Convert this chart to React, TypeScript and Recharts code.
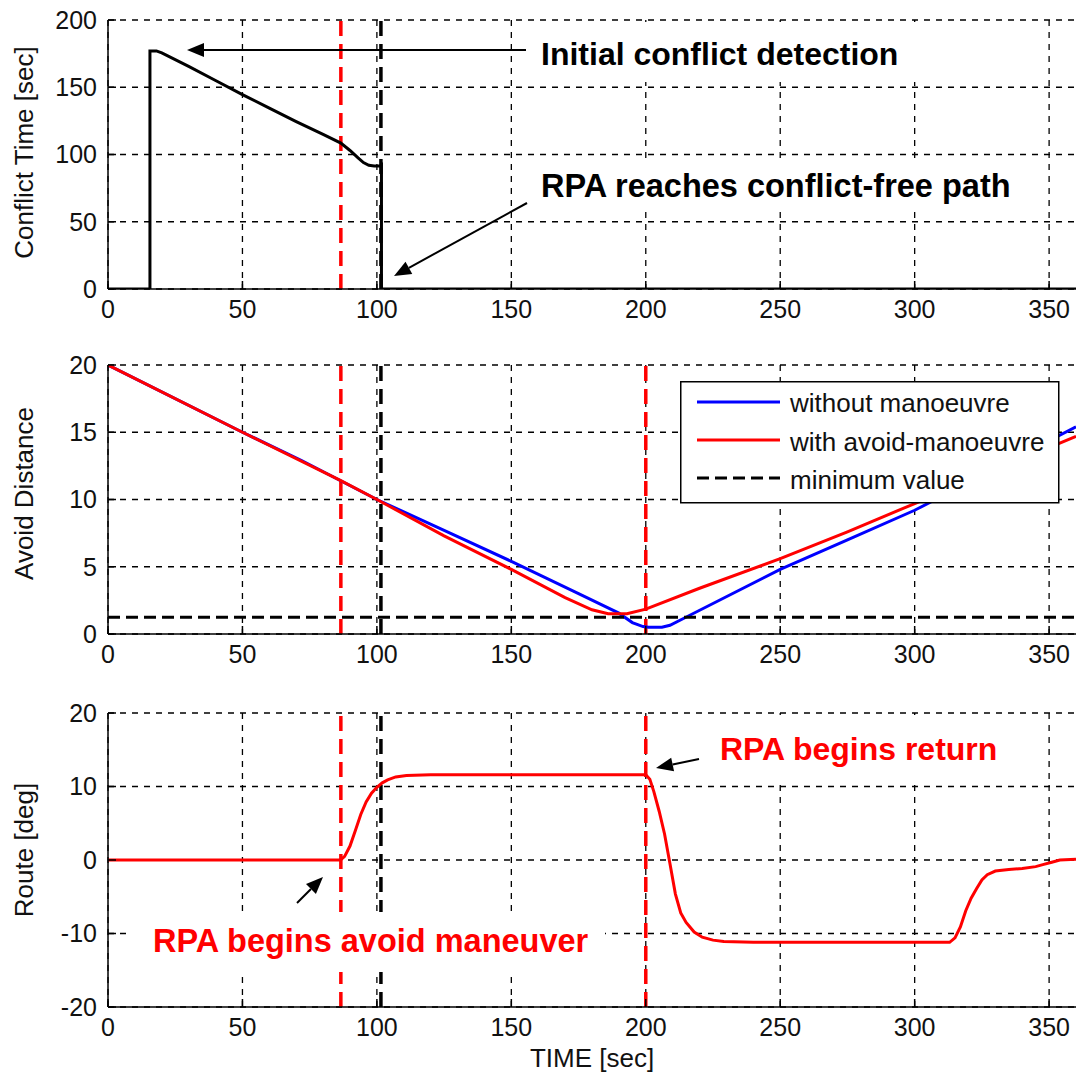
import React from 'react';
import { LineChart, Line, XAxis, YAxis, CartesianGrid, ReferenceLine, Legend } from 'recharts';

// ---------- data ----------
const TIME_TICKS = [0, 50, 100, 150, 200, 250, 300, 350];
const CONFLICT_TICKS = [0, 50, 100, 150, 200];
const DIST_TICKS = [0, 5, 10, 15, 20];
const ROUTE_TICKS = [-20, -10, 0, 10, 20];

// Conflict time [sec]
const CONFLICT_T = [0, 15.6, 15.6, 18, 20, 30, 40, 50, 60, 70, 80, 86.6, 90, 93, 95, 97, 99, 101.4, 101.7, 101.7, 360];
const CONFLICT_V = [0, 0, 177, 177, 175.5, 165.5, 155, 144.5, 134.5, 124.5, 115, 108.5, 103, 97.5, 94, 92, 91.5, 91.5, 92, 0, 0];

// Avoid distance without manoeuvre
const NOMAN_T = [0, 50, 72, 100, 125, 150, 175, 190, 195, 199, 201, 206, 209, 214, 250, 275, 300, 330, 360];
const NOMAN_V = [20, 15, 12.9, 10, 7.7, 5.4, 3.0, 1.55, 0.85, 0.55, 0.5, 0.5, 0.65, 1.15, 4.8, 7.0, 9.2, 12.3, 15.4];

// Avoid distance with avoid-manoeuvre
const AVOID_T = [0, 50, 86.6, 100, 125, 150, 170, 180, 186, 193, 200, 220, 250, 275, 300, 330, 360];
const AVOID_V = [20, 15, 11.4, 10, 7.3, 4.8, 2.7, 1.8, 1.5, 1.5, 1.85, 3.4, 5.6, 7.6, 9.7, 12.2, 14.7];

// Minimum value
const MIN_T = [0, 360];
const MIN_V = [1.25, 1.25];

// Route [deg]
const ROUTE_T = [0, 86.5, 88, 90, 92, 94, 96, 98, 100, 102, 104, 107, 111, 120, 200, 201.5, 203, 205, 207, 209, 211, 213, 215, 218, 221, 225, 229, 240, 313, 315, 317, 319, 321, 323, 325, 327, 330, 335, 340, 345, 348, 351, 354, 360];
const ROUTE_V = [0, 0, 0.5, 1.9, 4.0, 6.2, 7.9, 9.1, 9.9, 10.5, 10.9, 11.3, 11.5, 11.6, 11.6, 11.0, 9.3, 6.6, 3.5, -0.5, -4.6, -7.2, -8.5, -9.8, -10.5, -10.9, -11.1, -11.2, -11.2, -10.6, -9.1, -6.9, -5.2, -3.9, -2.7, -2.0, -1.5, -1.3, -1.15, -0.9, -0.6, -0.3, 0, 0.1];

// Event times
const AVOID_START = 86.6;
const CONFLICT_FREE = 101.5;
const RETURN_START = 200;

const LEGEND_ORDER = ['without manoeuvre', 'with avoid-manoeuvre', 'minimum value'];

const zip = (t: number[], v: number[]) => t.map((x, i) => ({ t: x, v: v[i] }));

const conflictData = zip(CONFLICT_T, CONFLICT_V);
const nomanData = zip(NOMAN_T, NOMAN_V);
const avoidData = zip(AVOID_T, AVOID_V);
const minData = zip(MIN_T, MIN_V);
const routeData = zip(ROUTE_T, ROUTE_V);

// ---------- styles ----------
const FONT = '"Liberation Sans", Arial, Helvetica, sans-serif';
const W = 1077;
const AXIS = { stroke: '#000', strokeWidth: 1.5 };
const TICK = { fill: '#111', fontSize: 25, fontFamily: FONT };
const RED = '#ff0000';
const BLUE = '#0000ff';

function frame(yTicks: number[], yDomain: number[], xHeight: number, xLabel?: string, yLabel?: string, yLabelShift = 0) {
  return [
    <CartesianGrid key="grid" stroke="#000" strokeWidth={1.3} strokeDasharray="6 6" horizontalValues={yTicks} verticalValues={TIME_TICKS} />,
    <XAxis
      key="xb"
      dataKey="t"
      type="number"
      domain={[0, 360]}
      ticks={TIME_TICKS}
      interval={0}
      allowDataOverflow
      height={xHeight}
      tickSize={-8}
      tickMargin={19}
      axisLine={AXIS}
      tickLine={AXIS}
      tick={TICK}
      label={
        xLabel
          ? (p: any) => {
              const vb = p.viewBox || {};
              return (
                <text x={vb.x + vb.width / 2} y={vb.y + 60} textAnchor="middle" fontSize={26} fontFamily={FONT} fill="#111">
                  {xLabel}
                </text>
              );
            }
          : undefined
      }
    />,
    <XAxis
      key="xt"
      xAxisId="top"
      orientation="top"
      dataKey="t"
      type="number"
      domain={[0, 360]}
      ticks={TIME_TICKS}
      interval={0}
      allowDataOverflow
      height={0}
      tickSize={-8}
      axisLine={AXIS}
      tickLine={AXIS}
      tickFormatter={() => ''}
    />,
    <YAxis
      key="yl"
      type="number"
      domain={yDomain}
      ticks={yTicks}
      interval={0}
      allowDataOverflow
      width={108}
      tickSize={-8}
      tickMargin={19}
      axisLine={AXIS}
      tickLine={AXIS}
      tick={TICK}
      label={(p: any) => {
        const vb = p.viewBox || {};
        const cx = 24;
        const cy = vb.y + vb.height / 2 + yLabelShift;
        return (
          <text
            x={cx}
            y={cy}
            transform={`rotate(-90, ${cx}, ${cy})`}
            textAnchor="middle"
            dominantBaseline="central"
            fontSize={26}
            fontFamily={FONT}
            fill="#111"
          >
            {yLabel}
          </text>
        );
      }}
    />,
    <YAxis
      key="yr"
      yAxisId="right"
      orientation="right"
      type="number"
      domain={yDomain}
      ticks={yTicks}
      interval={0}
      allowDataOverflow
      width={0}
      tickSize={-8}
      axisLine={AXIS}
      tickLine={AXIS}
      tickFormatter={() => ''}
    />,
  ];
}

const LegendBox = (props: any) => {
  const items = [...(props.payload || [])].sort(
    (a: any, b: any) => LEGEND_ORDER.indexOf(a.value) - LEGEND_ORDER.indexOf(b.value)
  );
  return (
    <svg width={380} height={123} style={{ display: 'block' }}>
      <rect x={0.75} y={0.75} width={378} height={121} fill="#fff" stroke="#000" strokeWidth={1.5} />
      {items.map((it: any, i: number) => {
        const dash = it.payload?.strokeDasharray;
        return (
          <g key={i}>
            <line x1={17} x2={100} y1={21 + i * 38} y2={21 + i * 38} stroke={it.color} strokeWidth={3} strokeDasharray={dash} />
            <text x={110} y={31 + i * 38.5} fontSize={26} fontFamily={FONT} fill="#111">
              {it.value}
            </text>
          </g>
        );
      })}
    </svg>
  );
};

const Arrow = ({ x1, y1, x2, y2 }: { x1: number; y1: number; x2: number; y2: number }) => {
  const dx = x2 - x1;
  const dy = y2 - y1;
  const len = Math.sqrt(dx * dx + dy * dy);
  const ux = dx / len;
  const uy = dy / len;
  const hl = 17;
  const hw = 7;
  const bx = x2 - ux * hl;
  const by = y2 - uy * hl;
  const px = -uy * hw;
  const py = ux * hw;
  return (
    <g>
      <line x1={x1} y1={y1} x2={bx} y2={by} stroke="#000" strokeWidth={2} />
      <polygon points={`${x2},${y2} ${bx + px},${by + py} ${bx - px},${by - py}`} fill="#000" />
    </g>
  );
};

const Annotations = () => (
  <svg width={W} height={1083} style={{ position: 'absolute', left: 0, top: 0, pointerEvents: 'none' }}>
    <rect x={533} y={22} width={392} height={60} fill="#fff" />
    <text x={541} y={65} fontSize={32} fontWeight="bold" fontFamily={FONT} fill="#000">
      Initial conflict detection
    </text>
    <Arrow x1={526} y1={50} x2={187} y2={50} />

    <rect x={533} y={162} width={500} height={46} fill="#fff" />
    <text x={541} y={197} fontSize={32.5} fontWeight="bold" fontFamily={FONT} fill="#000">
      RPA reaches conflict-free path
    </text>
    <Arrow x1={527} y1={203} x2={394} y2={276} />

    <rect x={712} y={715} width={300} height={66} fill="#fff" />
    <text x={720} y={760} fontSize={32} fontWeight="bold" fontFamily={FONT} fill={RED}>
      RPA begins return
    </text>
    <Arrow x1={699} y1={759} x2={656} y2={768} />

    <rect x={128} y={912} width={477} height={60} fill="#fff" />
    <text x={153} y={952} fontSize={32.5} fontWeight="bold" fontFamily={FONT} fill={RED}>
      RPA begins avoid maneuver
    </text>
    <Arrow x1={297} y1={903} x2={323} y2={877} />
  </svg>
);

const vline = (x: number, color: string, key: string) => (
  <ReferenceLine key={key} x={x} stroke={color} strokeWidth={3.5} strokeDasharray="15 8" />
);

export default function App() {
  return (
    <div style={{ position: 'absolute', left: 0, top: 0, width: W, height: 1083, background: '#fff', fontFamily: FONT }}>
      {/* Conflict time */}
      <div style={{ position: 'absolute', left: 0, top: 0 }}>
        <LineChart width={W} height={330} margin={{ top: 20, right: 1, left: 0, bottom: 0 }}>
          {frame(CONFLICT_TICKS, [0, 200], 41, undefined, 'Conflict Time [sec]', -2)}
          {vline(AVOID_START, RED, 'r1')}
          {vline(CONFLICT_FREE, '#000', 'k1')}
          <Line data={conflictData} dataKey="v" name="conflict time" stroke="#000" strokeWidth={3} dot={false} isAnimationActive={false} type="linear" />
        </LineChart>
      </div>

      {/* Avoid distance */}
      <div style={{ position: 'absolute', left: 0, top: 345 }}>
        <LineChart width={W} height={330} margin={{ top: 20, right: 1, left: 0, bottom: 0 }}>
          {frame(DIST_TICKS, [0, 20], 41, undefined, 'Avoid Distance', -6)}
          {vline(AVOID_START, RED, 'r1')}
          {vline(CONFLICT_FREE, '#000', 'k1')}
          {vline(RETURN_START, RED, 'r2')}
          <Line data={nomanData} dataKey="v" name="without manoeuvre" stroke={BLUE} strokeWidth={3} dot={false} isAnimationActive={false} type="linear" />
          <Line data={avoidData} dataKey="v" name="with avoid-manoeuvre" stroke={RED} strokeWidth={3} dot={false} isAnimationActive={false} type="linear" />
          <Line data={minData} dataKey="v" name="minimum value" stroke="#000" strokeWidth={3} strokeDasharray="12 6" dot={false} isAnimationActive={false} type="linear" />
          <Legend
            layout="horizontal"
            verticalAlign="middle"
            align="center"
            content={<LegendBox />}
            wrapperStyle={{ left: 680, top: 36, width: 380, height: 123 }}
          />
        </LineChart>
      </div>

      {/* Route */}
      <div style={{ position: 'absolute', left: 0, top: 693 }}>
        <LineChart width={W} height={390} margin={{ top: 20, right: 1, left: 0, bottom: 0 }}>
          {frame(ROUTE_TICKS, [-20, 20], 76, 'TIME [sec]', 'Route [deg]', -10)}
          {vline(AVOID_START, RED, 'r1')}
          {vline(CONFLICT_FREE, '#000', 'k1')}
          {vline(RETURN_START, RED, 'r2')}
          <Line data={routeData} dataKey="v" name="route" stroke={RED} strokeWidth={3} dot={false} isAnimationActive={false} type="linear" />
        </LineChart>
      </div>

      <Annotations />
    </div>
  );
}
